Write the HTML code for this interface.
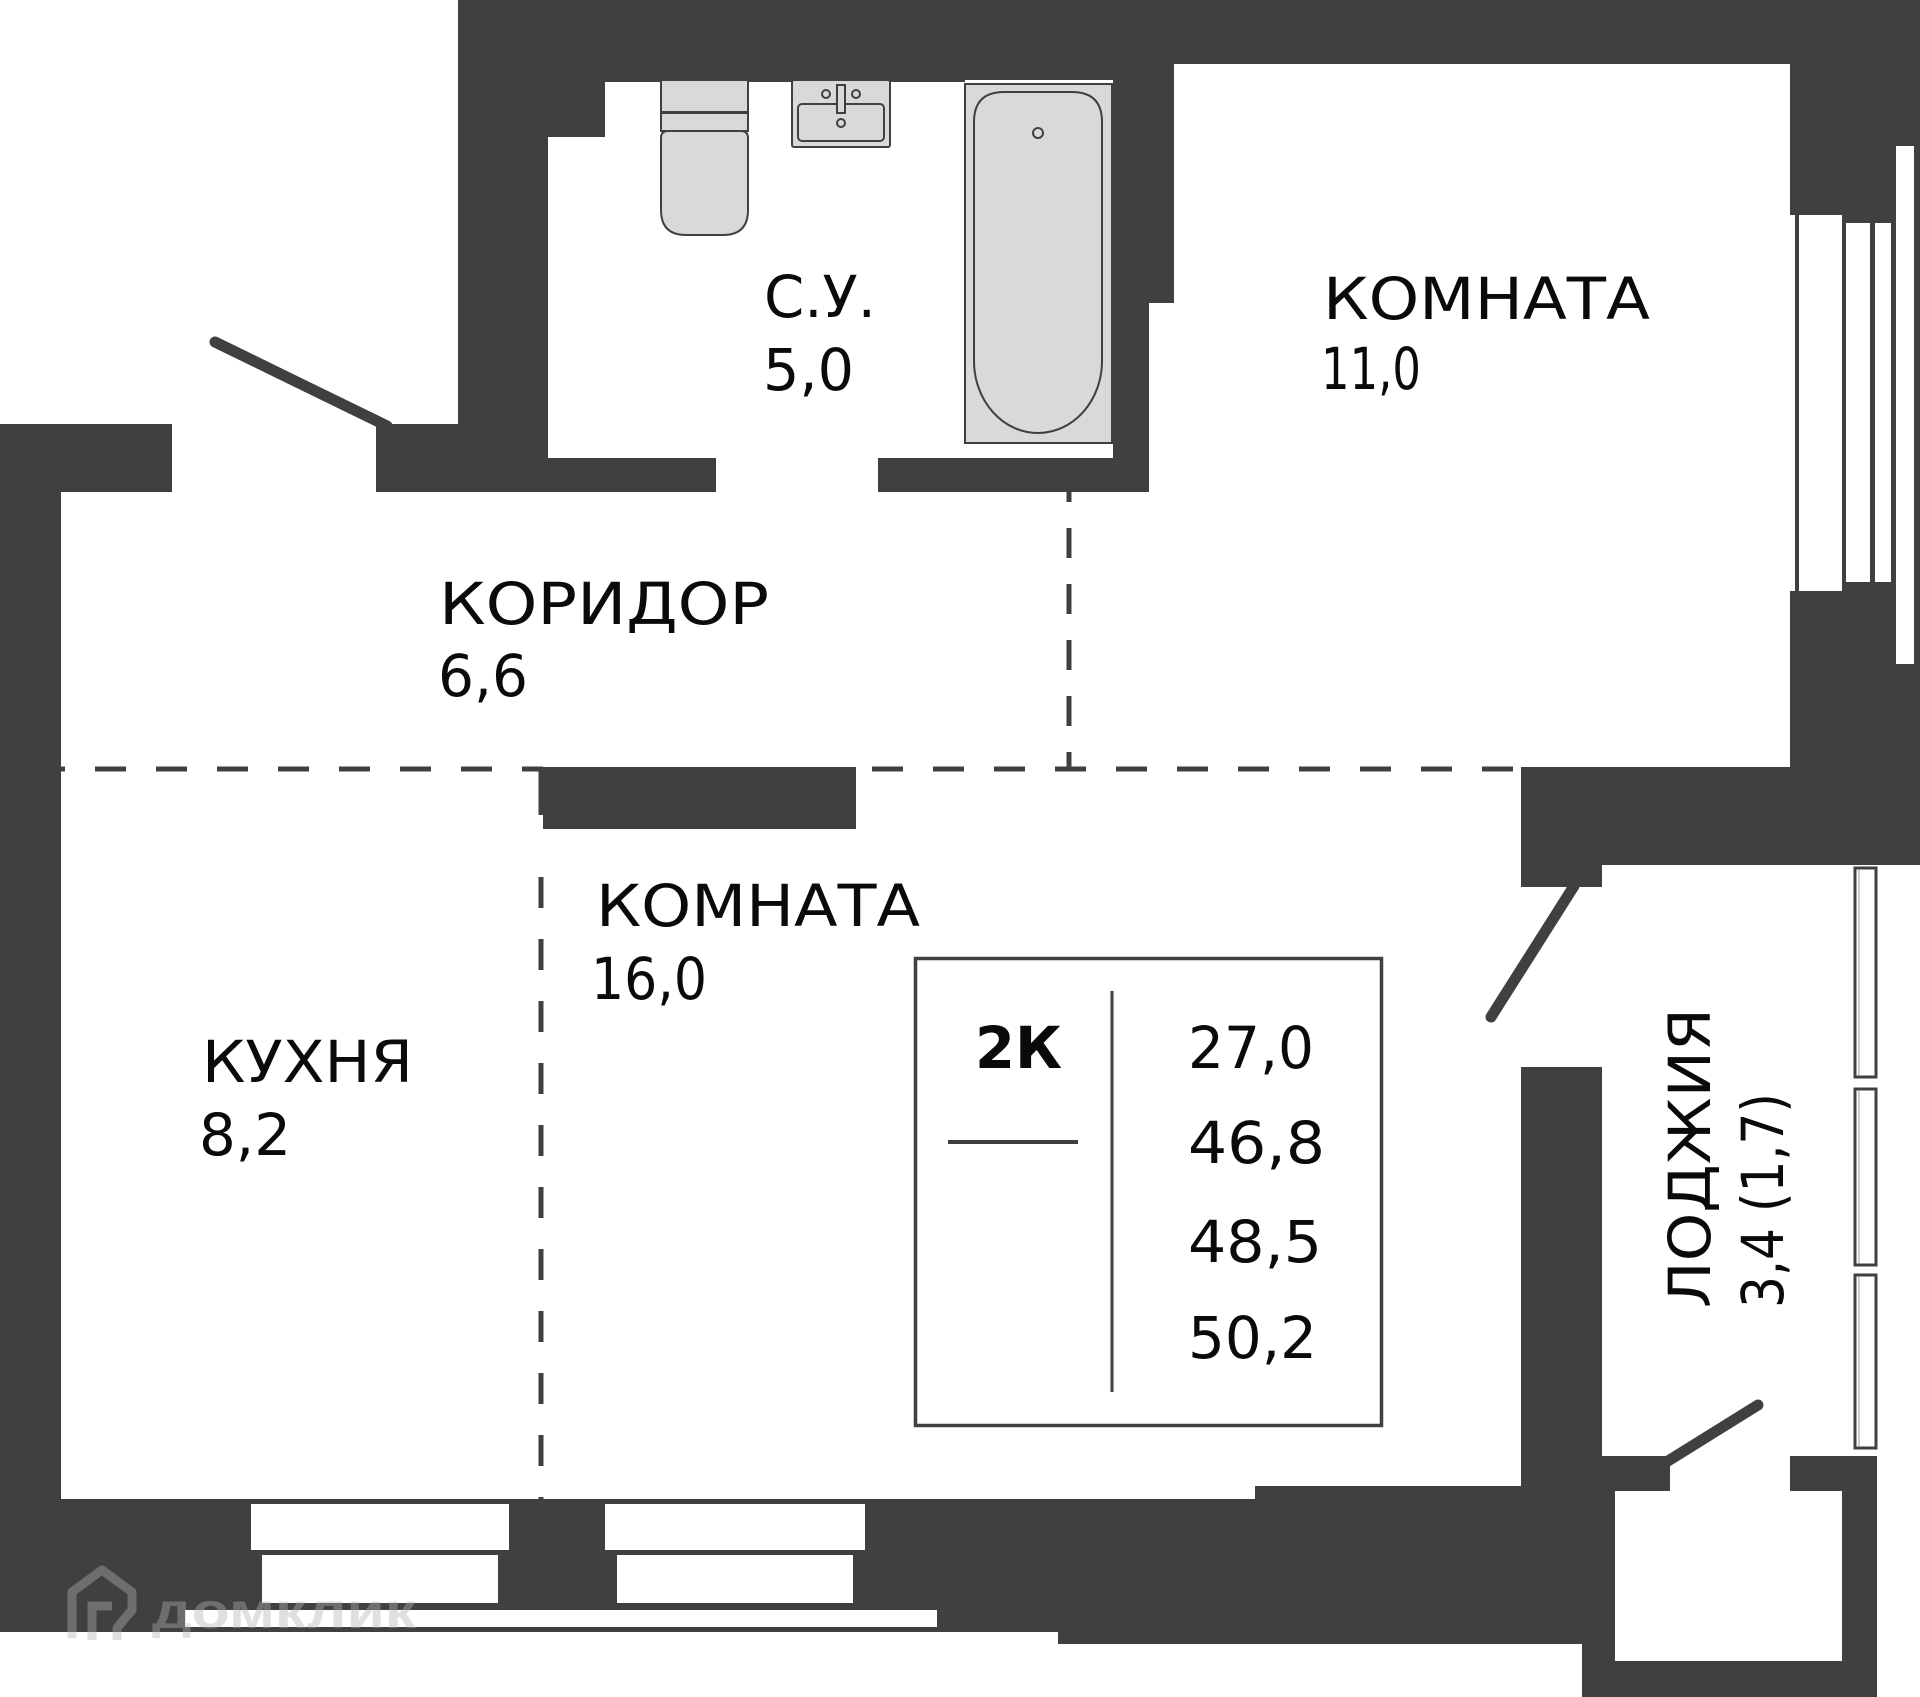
<!DOCTYPE html>
<html>
<head>
<meta charset="utf-8">
<style>
  html, body { margin: 0; padding: 0; background: #fff; }
  svg { display: block; }
  .t { font-family: "DejaVu Sans", "Liberation Sans", sans-serif; font-size: 58px; fill: #0a0a0a; }
  .b { font-family: "DejaVu Sans", "Liberation Sans", sans-serif; font-size: 58px; font-weight: bold; fill: #0a0a0a; }
</style>
</head>
<body>
<svg width="1920" height="1697" viewBox="0 0 1920 1697" xmlns="http://www.w3.org/2000/svg">
  <rect x="0" y="0" width="1920" height="1697" fill="#ffffff"/>

  <!-- dashed zone lines (drawn under walls) -->
  <g stroke="#404042" stroke-width="5" fill="none">
    <line x1="34" y1="769" x2="543" y2="769" stroke-dasharray="31 30"/>
    <line x1="872" y1="769" x2="1516" y2="769" stroke-dasharray="31 30"/>
    <line x1="1069" y1="472" x2="1069" y2="771" stroke-dasharray="30 26"/>
    <line x1="541" y1="769" x2="541" y2="815"/>
    <line x1="541" y1="877" x2="541" y2="1499" stroke-dasharray="31 31"/>
  </g>

  <!-- walls -->
  <g fill="#404042">
    <rect x="458" y="0" width="1462" height="64"/>
    <rect x="458" y="64" width="507" height="18"/>
    <rect x="965" y="64" width="148" height="16"/>
    <rect x="1113" y="64" width="61" height="239"/>
    <rect x="1113" y="303" width="36" height="189"/>
    <rect x="458" y="82" width="147" height="55"/>
    <rect x="458" y="137" width="90" height="287"/>
    <rect x="376" y="424" width="172" height="68"/>
    <rect x="548" y="458" width="168" height="34"/>
    <rect x="878" y="458" width="271" height="34"/>
    <rect x="0" y="424" width="172" height="68"/>
    <rect x="0" y="492" width="61" height="1140"/>
    <rect x="0" y="1499" width="1615" height="133"/>
    <rect x="1058" y="1632" width="557" height="12"/>
    <rect x="1255" y="1486" width="360" height="13"/>
    <rect x="1521" y="1067" width="81" height="420"/>
    <rect x="1582" y="1644" width="33" height="53"/>
    <rect x="1602" y="1456" width="68" height="35"/>
    <rect x="1790" y="1456" width="87" height="35"/>
    <rect x="1842" y="1491" width="35" height="206"/>
    <rect x="1615" y="1661" width="227" height="36"/>
    <rect x="543" y="767" width="313" height="62"/>
    <rect x="1521" y="767" width="399" height="98"/>
    <rect x="1521" y="865" width="81" height="22"/>
    <rect x="1790" y="64" width="130" height="705"/>
  </g>

  <!-- room 11 window -->
  <g fill="#ffffff">
    <rect x="1790" y="215" width="5" height="376"/>
    <rect x="1799" y="215" width="43" height="376"/>
    <rect x="1846" y="223" width="24" height="359"/>
    <rect x="1875" y="223" width="16" height="359"/>
    <rect x="1896" y="146" width="18" height="518"/>
  </g>

  <!-- kitchen / room bottom windows -->
  <g fill="#ffffff">
    <rect x="251" y="1504" width="258" height="46"/>
    <rect x="262" y="1555" width="236" height="48"/>
    <rect x="605" y="1504" width="260" height="46"/>
    <rect x="617" y="1555" width="236" height="48"/>
    <rect x="185" y="1610" width="752" height="17"/>
  </g>

  <!-- loggia windows -->
  <g fill="#ffffff" stroke="#404042" stroke-width="3">
    <rect x="1855" y="868" width="21" height="209"/>
    <rect x="1855" y="1089" width="21" height="176"/>
    <rect x="1855" y="1275" width="21" height="173"/>
  </g>
  <g stroke="#9a9a9a" stroke-width="1">
    <line x1="1859" y1="870" x2="1859" y2="1075"/>
    <line x1="1859" y1="1091" x2="1859" y2="1263"/>
    <line x1="1859" y1="1277" x2="1859" y2="1446"/>
  </g>

  <!-- toilet -->
  <g fill="#d9d9d9" stroke="#404042" stroke-width="2">
    <rect x="661" y="80" width="87" height="32"/>
    <rect x="661" y="113" width="87" height="18"/>
    <path d="M661 138 Q661 131 668 131 L741 131 Q748 131 748 138 L748 210 Q748 235 723 235 L686 235 Q661 235 661 210 Z"/>
  </g>

  <!-- sink -->
  <g fill="#d9d9d9" stroke="#404042" stroke-width="2">
    <rect x="792" y="80" width="98" height="67" rx="2"/>
    <rect x="798" y="104" width="86" height="37" rx="4"/>
    <rect x="837" y="85" width="8" height="28"/>
    <circle cx="826" cy="94" r="4"/>
    <circle cx="856" cy="94" r="4"/>
    <circle cx="841" cy="123" r="4"/>
  </g>

  <!-- bathtub -->
  <g fill="#d9d9d9" stroke="#404042" stroke-width="2">
    <rect x="965" y="84" width="147" height="359"/>
    <path d="M974 122 Q974 92 1004 92 L1072 92 Q1102 92 1102 122 L1102 361 A64 72 0 0 1 974 361 Z"/>
    <circle cx="1038" cy="133" r="5"/>
  </g>

  <!-- doors -->
  <g stroke="#404042" stroke-width="11" stroke-linecap="round" fill="none">
    <line x1="215" y1="342" x2="387" y2="426"/>
    <line x1="1574" y1="886" x2="1491" y2="1017"/>
    <line x1="1758" y1="1405" x2="1668" y2="1461"/>
  </g>

  <!-- summary box -->
  <rect x="915.5" y="958.5" width="466" height="467" fill="#ffffff" stroke="#404042" stroke-width="3.5"/>
  <line x1="1112" y1="991" x2="1112" y2="1392" stroke="#404042" stroke-width="3"/>
  <line x1="948" y1="1142" x2="1078" y2="1142" stroke="#404042" stroke-width="4"/>

  <!-- labels -->
  <text class="t" x="764" y="317" textLength="112" lengthAdjust="spacingAndGlyphs">С.У.</text>
  <text class="t" x="763" y="390" textLength="91" lengthAdjust="spacingAndGlyphs">5,0</text>
  <text class="t" x="439" y="624" textLength="330" lengthAdjust="spacingAndGlyphs">КОРИДОР</text>
  <text class="t" x="438" y="696" textLength="90" lengthAdjust="spacingAndGlyphs">6,6</text>
  <text class="t" x="1323" y="319" textLength="327" lengthAdjust="spacingAndGlyphs">КОМНАТА</text>
  <text class="t" x="1321" y="389" textLength="100" lengthAdjust="spacingAndGlyphs">11,0</text>
  <text class="t" x="596" y="926" textLength="324" lengthAdjust="spacingAndGlyphs">КОМНАТА</text>
  <text class="t" x="591" y="999" textLength="116" lengthAdjust="spacingAndGlyphs">16,0</text>
  <text class="t" x="202" y="1082" textLength="211" lengthAdjust="spacingAndGlyphs">КУХНЯ</text>
  <text class="t" x="199" y="1155" textLength="92" lengthAdjust="spacingAndGlyphs">8,2</text>

  <text class="t" transform="translate(1710,1308) rotate(-90)" x="0" y="0" textLength="300" lengthAdjust="spacingAndGlyphs">ЛОДЖИЯ</text>
  <text class="t" transform="translate(1783,1308) rotate(-90)" x="0" y="0" textLength="215" lengthAdjust="spacingAndGlyphs">3,4 (1,7)</text>

  <text class="b" x="975" y="1068" textLength="87" lengthAdjust="spacingAndGlyphs">2К</text>
  <text class="t" x="1188" y="1068" textLength="126" lengthAdjust="spacingAndGlyphs">27,0</text>
  <text class="t" x="1188" y="1163" textLength="137" lengthAdjust="spacingAndGlyphs">46,8</text>
  <text class="t" x="1188" y="1262" textLength="134" lengthAdjust="spacingAndGlyphs">48,5</text>
  <text class="t" x="1188" y="1358" textLength="129" lengthAdjust="spacingAndGlyphs">50,2</text>

  <!-- watermark -->
  <g opacity="0.4">
    <path d="M72 1638 L72 1592 L102 1570 L132 1592 L132 1610 L117 1628 L117 1640" fill="none" stroke="#b4b4b4" stroke-width="9" stroke-linejoin="round"/>
    <path d="M92 1640 L92 1606 L112 1606" fill="none" stroke="#b4b4b4" stroke-width="9"/>
    <text x="152" y="1628" font-family="Liberation Sans, sans-serif" font-weight="bold" font-size="50" fill="#b4b4b4" textLength="264" lengthAdjust="spacingAndGlyphs">домклик</text>
  </g>
</svg>
</body>
</html>
